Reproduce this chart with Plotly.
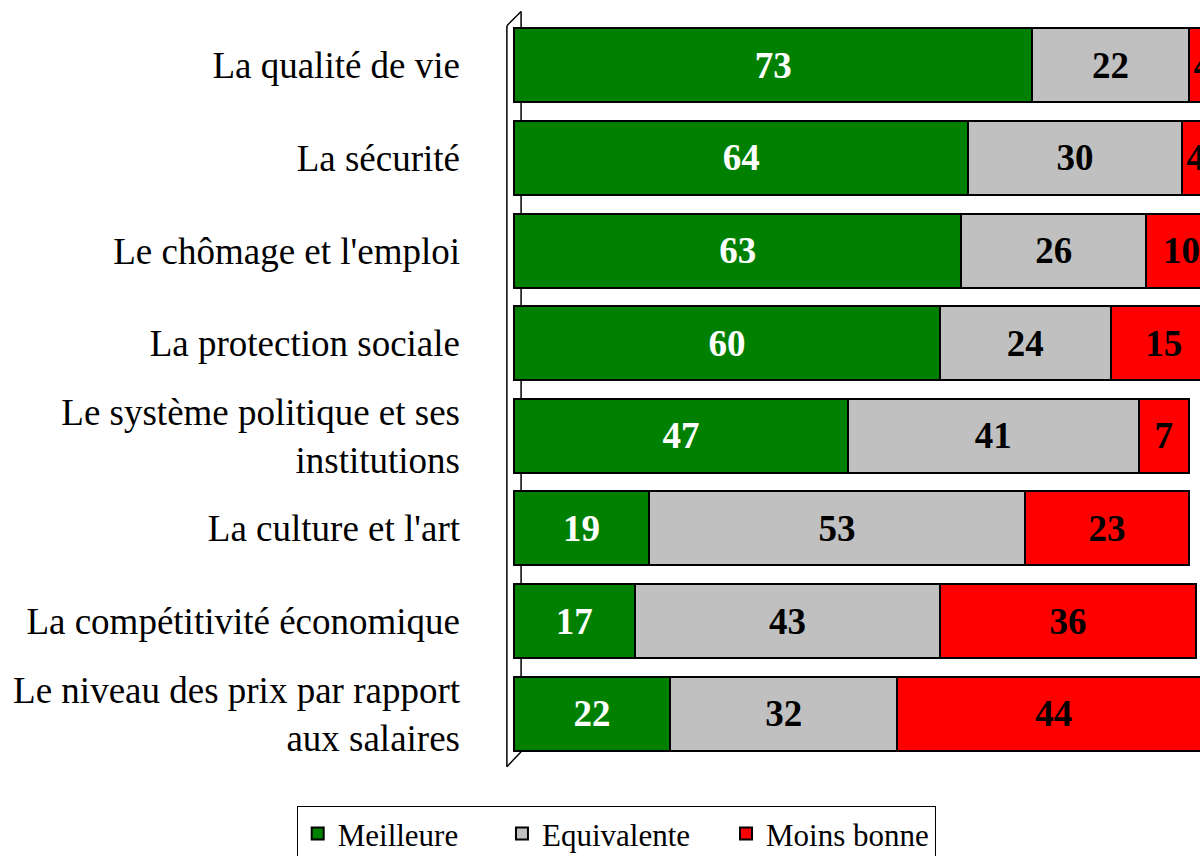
import plotly.graph_objects as go

# Données (%)
categories = [
    "La qualité de vie",
    "La sécurité",
    "Le chômage et l'emploi",
    "La protection sociale",
    "Le système politique et ses<br>institutions",
    "La culture et l'art",
    "La compétitivité économique",
    "Le niveau des prix par rapport<br>aux salaires",
]
meilleure = [73, 64, 63, 60, 47, 19, 17, 22]
equivalente = [22, 30, 26, 24, 41, 53, 43, 32]
moins_bonne = [4, 4, 10, 15, 7, 23, 36, 44]

NBSP = "\u00a0"
SERIES = [
    ("Meilleure" + NBSP * 5, meilleure, "#008000", "white"),
    ("Equivalente" + NBSP * 4, equivalente, "#C0C0C0", "black"),
    ("Moins bonne", moins_bonne, "#FF0000", "black"),
]
FONT = "Liberation Serif, Times New Roman, serif"

fig = go.Figure()
for name, vals, color, txtcol in SERIES:
    fig.add_trace(go.Bar(
        y=categories, x=vals, name=name, orientation="h",
        marker=dict(color=color, line=dict(color="black", width=2)),
        text=[str(v) for v in vals],
        textposition="inside", insidetextanchor="middle",
        textangle=0, constraintext="none",
        textfont=dict(family=FONT, size=37, color=txtcol, weight="bold"),
    ))

# Paroi gauche façon "3D"
wall = dict(xref="x", yref="paper", line=dict(color="black", width=1.5))
fig.add_shape(type="line", x0=-1, x1=-1, y0=-0.009, y1=0.991, layer="above", **wall)
fig.add_shape(type="line", x0=1, x1=1, y0=0.011, y1=1.01, layer="below", **wall)
fig.add_shape(type="line", x0=-1, x1=1, y0=0.991, y1=1.01, layer="above", **wall)
fig.add_shape(type="line", x0=-1, x1=1, y0=-0.009, y1=0.011, layer="above", **wall)

fig.update_layout(
    barmode="stack",
    bargap=0.2,
    width=1200, height=856,
    margin=dict(l=500, r=0, t=19, b=96, autoexpand=False),
    paper_bgcolor="white", plot_bgcolor="white",
    font=dict(family=FONT, size=37, color="black"),
    legend=dict(
        orientation="h", traceorder="normal",
        x=0.166, xanchor="center", y=-0.062, yanchor="top",
        bgcolor="white", bordercolor="black", borderwidth=1,
        font=dict(family=FONT, size=31, color="black"),
    ),
)
# échelle : 0 à x=514 px, ~7.1 px par point ; le graphique est coupé à droite
fig.update_xaxes(range=[-1.97, 96.6], showgrid=False, zeroline=False,
                 showticklabels=False, showline=False)
fig.update_yaxes(range=[7.5, -0.5], showgrid=False, zeroline=False,
                 showline=False, ticks="", ticklabelstandoff=39,
                 tickfont=dict(family=FONT, size=37, color="black"))

# pas de marge de page autour de la figure
fig.write_html("out.html", config={"displayModeBar": False},
               post_script="document.body.style.margin='0';")
